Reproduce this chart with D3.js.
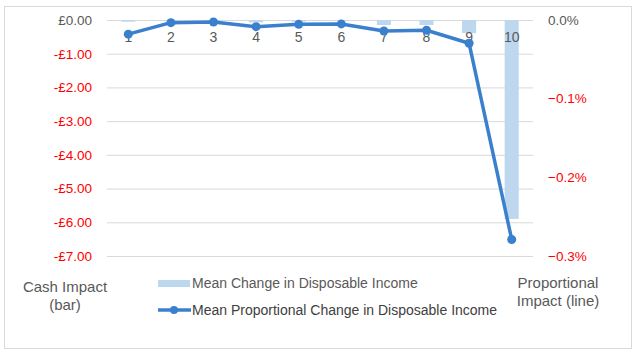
<!DOCTYPE html>
<html>
<head>
<meta charset="utf-8">
<script src="https://cdn.jsdelivr.net/npm/d3@7"></script>
<style>
  body { margin: 0; background: #fff; }
  text { font-family: "Liberation Sans", Arial, sans-serif; }
</style>
</head>
<body>
<svg id="chart" width="637" height="356"></svg>
<script>
// DATA
const deciles = ["1", "2", "3", "4", "5", "6", "7", "8", "9", "10"];
const cashChange = [-0.05, -0.03, -0.03, -0.07, -0.05, -0.02, -0.15, -0.15, -0.39, -5.9];
const propChange = [-0.018, -0.0034, -0.0025, -0.0085, -0.0055, -0.005, -0.014, -0.013, -0.0296, -0.279];
const cashTicks = [0, -1, -2, -3, -4, -5, -6, -7];
const propTicks = [0, -0.1, -0.2, -0.3];

// LAYOUT
const plotLeft = 107, plotRight = 533;
const plotTop = 20, plotBottom = 256;
const grey = "#595959", red = "#FF0000";
const barColor = "#BDD7EE", lineColor = "#3A80CC";

const svg = d3.select("#chart");

// chart border
svg.append("rect")
  .attr("x", 4.5).attr("y", 6.5)
  .attr("width", 627).attr("height", 342)
  .attr("fill", "none")
  .attr("stroke", "#D9D9D9");

const x = d3.scaleBand()
  .domain(deciles)
  .range([plotLeft, plotRight])
  .paddingInner(0.67)
  .paddingOuter(0.335);

const yCash = d3.scaleLinear().domain([-7, 0]).range([plotBottom, plotTop]);
const yProp = d3.scaleLinear().domain([-0.3, 0]).range([plotBottom, plotTop]);

// gridlines
svg.append("g")
  .attr("transform", `translate(${plotLeft},0)`)
  .call(d3.axisLeft(yCash).tickValues(cashTicks).tickSize(-(plotRight - plotLeft)).tickFormat(""))
  .call(g => g.select(".domain").remove())
  .call(g => g.selectAll("line").attr("stroke", "#D9D9D9"));

// left axis labels
const leftAxis = svg.append("g")
  .attr("transform", `translate(${plotLeft - 12},0)`)
  .call(d3.axisLeft(yCash).tickValues(cashTicks).tickSize(0)
    .tickFormat(d => (d < 0 ? "-£" : "£") + Math.abs(d).toFixed(2)));
leftAxis.select(".domain").remove();
leftAxis.selectAll("text")
  .attr("font-size", 13.5)
  .attr("font-family", "Liberation Sans, Arial, sans-serif")
  .attr("fill", d => d < 0 ? red : grey);

// right axis labels
const rightAxis = svg.append("g")
  .attr("transform", `translate(${plotRight + 12},0)`)
  .call(d3.axisRight(yProp).tickValues(propTicks).tickSize(0)
    .tickFormat(d => d3.format(".1f")(d) + "%"));
rightAxis.select(".domain").remove();
rightAxis.selectAll("text")
  .attr("font-size", 13.5)
  .attr("font-family", "Liberation Sans, Arial, sans-serif")
  .attr("fill", d => d < 0 ? red : grey);

// bars
svg.selectAll("rect.bar")
  .data(cashChange)
  .enter()
  .append("rect")
  .attr("class", "bar")
  .attr("x", (d, i) => x(deciles[i]))
  .attr("width", x.bandwidth())
  .attr("y", yCash(0))
  .attr("height", d => yCash(d) - yCash(0))
  .attr("fill", barColor);

// category labels
svg.selectAll("text.cat")
  .data(deciles)
  .enter()
  .append("text")
  .attr("class", "cat")
  .attr("x", d => x(d) + x.bandwidth() / 2)
  .attr("y", 42)
  .attr("text-anchor", "middle")
  .attr("font-size", 14)
  .attr("fill", grey)
  .text(d => d);

// line
const line = d3.line()
  .x((d, i) => x(deciles[i]) + x.bandwidth() / 2)
  .y(d => yProp(d));

svg.append("path")
  .datum(propChange)
  .attr("d", line)
  .attr("fill", "none")
  .attr("stroke", lineColor)
  .attr("stroke-width", 3.5)
  .attr("stroke-linejoin", "round");

svg.selectAll("circle.pt")
  .data(propChange)
  .enter()
  .append("circle")
  .attr("class", "pt")
  .attr("cx", (d, i) => x(deciles[i]) + x.bandwidth() / 2)
  .attr("cy", d => yProp(d))
  .attr("r", 4.5)
  .attr("fill", lineColor);

// legend
svg.append("rect")
  .attr("x", 158).attr("y", 280)
  .attr("width", 32).attr("height", 7)
  .attr("fill", barColor);
svg.append("text")
  .attr("x", 192).attr("y", 288)
  .attr("font-size", 14).attr("fill", grey)
  .text("Mean Change in Disposable Income");

svg.append("line")
  .attr("x1", 158).attr("x2", 191)
  .attr("y1", 310).attr("y2", 310)
  .attr("stroke", lineColor).attr("stroke-width", 3.5);
svg.append("circle")
  .attr("cx", 174).attr("cy", 310).attr("r", 4)
  .attr("fill", lineColor);
svg.append("text")
  .attr("x", 192).attr("y", 315)
  .attr("font-size", 14).attr("fill", "#404040")
  .text("Mean Proportional Change in Disposable Income");

// axis titles
const leftTitle = svg.append("text")
  .attr("text-anchor", "middle")
  .attr("font-size", 15).attr("fill", grey);
leftTitle.append("tspan").attr("x", 65).attr("y", 292).text("Cash Impact");
leftTitle.append("tspan").attr("x", 65).attr("y", 310).text("(bar)");

const rightTitle = svg.append("text")
  .attr("text-anchor", "middle")
  .attr("font-size", 15).attr("fill", grey);
rightTitle.append("tspan").attr("x", 558).attr("y", 288).text("Proportional");
rightTitle.append("tspan").attr("x", 558).attr("y", 306).text("Impact (line)");
</script>
</body>
</html>
